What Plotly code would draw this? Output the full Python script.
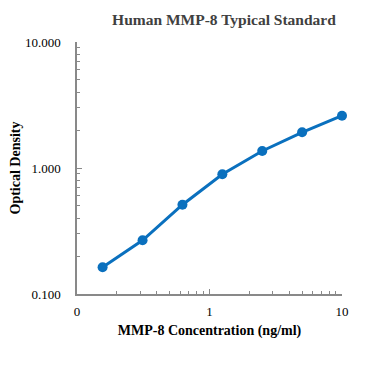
import plotly.graph_objects as go

conc = [0.156, 0.3125, 0.625, 1.25, 2.5, 5, 10]
od = [0.163, 0.267, 0.511, 0.891, 1.364, 1.92, 2.60]

x_tickvals = [0.1, 1, 10]
x_ticktext = ["0", "1", "10"]
y_tickvals = [0.1, 1, 10]
y_ticktext = ["0.100", "1.000", "10.000"]

serif = "Liberation Serif, Times New Roman, serif"
axcol = "#898989"

fig = go.Figure(go.Scatter(
    x=conc, y=od, mode="lines+markers",
    line=dict(color="#0A70BE", width=3),
    marker=dict(color="#0A70BE", size=10),
    cliponaxis=False,
))

fig.update_layout(
    width=357, height=359,
    margin=dict(l=69, r=23, t=34, b=73, autoexpand=False),
    paper_bgcolor="white", plot_bgcolor="white",
    showlegend=False,
    title=dict(text="<b>Human MMP-8 Typical Standard</b>", x=0.605, xanchor="center",
               y=0.967, yanchor="middle",
               font=dict(family=serif, size=15.5, color="#404040")),
    font=dict(family=serif, size=13, color="#000000"),
)

fig.update_xaxes(
    type="log", range=[-1, 1], automargin=False,
    tickvals=x_tickvals, ticktext=x_ticktext,
    ticks="inside", ticklen=5, tickcolor=axcol, tickwidth=1,
    minor=dict(ticks="inside", ticklen=3, tickcolor=axcol, dtick="D1", showgrid=False),
    showline=True, linecolor=axcol, linewidth=1.5, showgrid=False, zeroline=False,
    tickfont=dict(family=serif, size=13, color="#000000"),
    ticklabelstandoff=5,
    title=dict(text="<b>MMP-8 Concentration (ng/ml)</b>", standoff=7,
               font=dict(family=serif, size=14, color="#000000")),
)
fig.update_yaxes(
    type="log", range=[-1, 1], automargin=False,
    tickvals=y_tickvals, ticktext=y_ticktext,
    ticks="inside", ticklen=5, tickcolor=axcol, tickwidth=1,
    minor=dict(ticks="inside", ticklen=3, tickcolor=axcol, dtick="D1", showgrid=False),
    showline=True, linecolor=axcol, linewidth=1.5, showgrid=False, zeroline=False,
    tickfont=dict(family=serif, size=13, color="#000000"),
    ticklabelstandoff=12,
    title=dict(text="<b>Optical Density</b>", standoff=5,
               font=dict(family=serif, size=14, color="#000000")),
)

fig.write_html("out.html")
